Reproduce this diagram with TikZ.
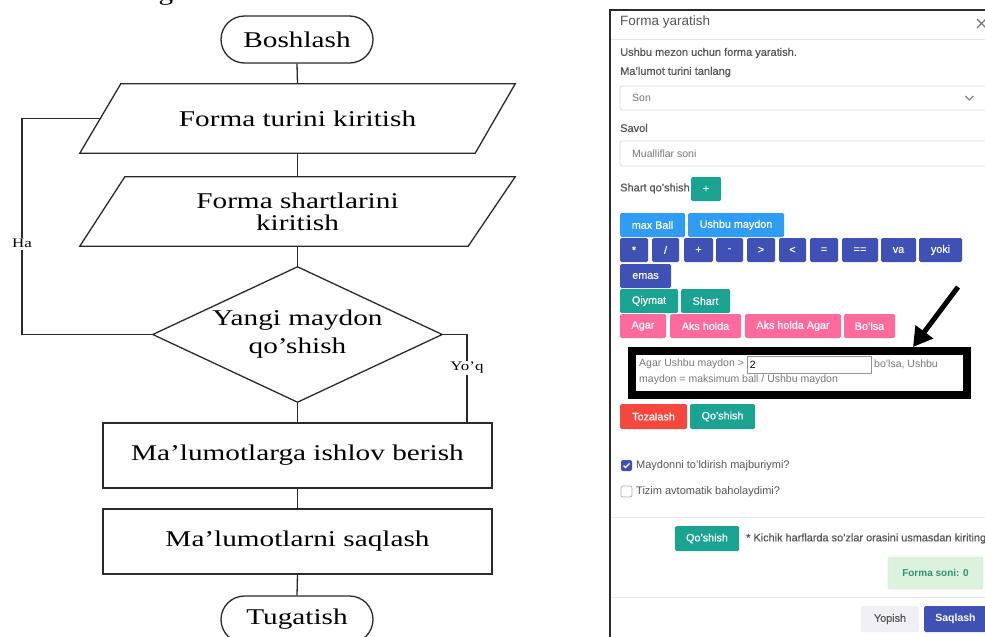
\documentclass[tikz,border=0pt]{standalone}
\usepackage{fontspec}
\setmainfont{Liberation Serif}
\newfontfamily\flowfont[FakeStretch=1.3]{Liberation Serif}
\newfontfamily\uifont{Liberation Sans}
\newfontfamily\uifontmed[FakeBold=0.5]{Liberation Sans}
\usetikzlibrary{arrows.meta,calc}

\definecolor{flowgray}{HTML}{2A2A2A}
\definecolor{uiblue}{HTML}{2F9DF4}
\definecolor{uiindigo}{HTML}{3F51B5}
\definecolor{uiteal}{HTML}{1BA392}
\definecolor{uipink}{HTML}{FE6A9B}
\definecolor{uired}{HTML}{F4473E}
\definecolor{uigreenbg}{HTML}{DDF2DD}
\definecolor{uigreenline}{HTML}{BFE3C3}
\definecolor{uigreentext}{HTML}{2E9373}
\definecolor{uigraybtn}{HTML}{EFEFF4}
\definecolor{uitext}{HTML}{555555}
\definecolor{uiph}{HTML}{777777}
\definecolor{uiline}{HTML}{DADADA}
\definecolor{uisep}{HTML}{E6E6E6}
\definecolor{uiframe}{HTML}{2A2A2A}

% one coloured button: name, colour, x1, y1, x2, y2, label
\newcommand\uibutton[7]{%
  \node[uibtn, fill=#2, minimum width={#5-#3}, minimum height={#6-#4}]
    (#1) at ({(#3+#5)/2},{(#4+#6)/2}) {#7};}

\begin{document}
\begin{tikzpicture}[x=1pt, y=-1pt,
  flowline/.style={draw=flowgray, line width=1.3pt},
  flowtext/.style={font=\flowfont\fontsize{22.5}{22}\selectfont, text=black},
  term/.style={flowline, flowtext, rounded corners=23.5pt, minimum width=152pt,
    minimum height=47pt, inner sep=0pt},
  procbox/.style={flowline, flowtext, minimum width=389pt, minimum height=65pt,
    inner sep=0pt},
  ghost/.style={flowtext, inner sep=0pt, align=center},
  lbl/.style={fill=white, inner sep=1.5pt, font=\flowfont\fontsize{13}{15}\selectfont},
  uitxt/.style={anchor=west, inner sep=0pt, text=uitext,
    font=\uifont\fontsize{11}{13}\selectfont},
  uilbl/.style={uitxt, font=\uifontmed\fontsize{11}{13}\selectfont},
  uiph/.style={uitxt, text=uiph, font=\uifont\fontsize{10.5}{12}\selectfont},
  uibtn/.style={text=white, inner sep=0pt, rounded corners=1.5pt,
    font=\uifontmed\fontsize{10.8}{12}\selectfont},
  uifield/.style={draw=uiline, line width=0.8pt, rounded corners=2pt, fill=white,
    inner sep=0pt},
  uisepline/.style={draw=uisep, line width=1pt},
]
\useasboundingbox (0,0) rectangle (985,637);
\clip (0,0) rectangle (985,637);
\fill[white] (0,0) rectangle (985,637);

% ---------------- flowchart ----------------
% descender of the heading line above
\node[flowtext, anchor=base, inner sep=0pt] (headfrag) at (166,0.5) {g};

\node[term] (start) at (297,39.5) {Boshlash};

\node[ghost, minimum width=435pt, minimum height=69pt] (in1) at (297.5,118.5)
  {Forma turini kiritish};
\draw[flowline] (in1.south west) -- ([xshift=-40pt]in1.south east)
  -- (in1.north east) -- ([xshift=41pt]in1.north west) -- cycle;

\node[ghost, minimum width=435pt, minimum height=69pt] (in2) at (297.5,211.5)
  {Forma shartlarini\\kiritish};
\draw[flowline] (in2.south west) -- ([xshift=-47pt]in2.south east)
  -- (in2.north east) -- ([xshift=45pt]in2.north west) -- cycle;

\node[ghost, font=\flowfont\fontsize{22.5}{28}\selectfont,
  minimum width=289pt, minimum height=135pt] (dec) at (297.5,334.5)
  {Yangi maydon\\qo’shish};
\draw[flowline] (dec.north) -- (dec.east) -- (dec.south) -- (dec.west) -- cycle;

\node[procbox] (proc) at (297.5,455.5) {Ma’lumotlarga ishlov berish};
\node[procbox] (save) at (297.5,541.5) {Ma’lumotlarni saqlash};
\node[term] (stop) at (297,619.5) {Tugatish};

\draw[flowline] (start.south) -- (in1.north);
\draw[flowline] (in1.south) -- (in2.north);
\draw[flowline] (in2.south) -- (dec.north);
\draw[flowline] (dec.south) -- (proc.north);
\draw[flowline] (proc.south) -- (save.north);
\draw[flowline] (save.south) -- (stop.north);

% "Ha" loop back to the first input
\coordinate (in1w) at ($(in1.south west)!0.5!([xshift=41pt]in1.north west)$);
\coordinate (loopx) at (22,0);
\draw[flowline] (dec.west) -- (dec.west -| loopx)
  -- node[lbl, pos=0.42] {Ha} (loopx |- in1w) -- (in1w);

% "Yo'q" branch down to processing
\coordinate (nox) at (467,0);
\draw[flowline] (dec.east) -- (dec.east -| nox)
  -- node[lbl, pos=0.38] {Yo’q} (nox |- proc.north);

% ---------------- form window ----------------
\draw[draw=uiframe, line width=2.2pt] (610,640) -- (610,10) -- (990,10);

\node[uitxt, font=\uifont\fontsize{13.5}{15}\selectfont] (title) at (620,22)
  {Forma yaratish};
\draw[draw=uiph, line width=1.1pt] (977,19) -- (986,28) (977,28) -- (986,19);
\draw[uisepline] (611,39.5) -- (990,39.5);

\node[uilbl] (intro) at (620,53) {Ushbu mezon uchun forma yaratish.};
\node[uilbl] (typelbl) at (620,72) {Ma’lumot turini tanlang};
\node[uifield, minimum width=372pt, minimum height=24pt] (typesel) at (806,98) {};
\node[uiph] (typeval) at (632,98) {Son};
\draw[draw=uiph, line width=1pt] ($(typesel.east)+(-27,-2)$) -- ++(4,4) -- ++(4,-4);

\node[uilbl] (qlbl) at (620,128) {Savol};
\node[uifield, minimum width=372pt, minimum height=25pt] (qfield) at (806,153.5) {};
\node[uiph] (qval) at (632,153.5) {Mualliflar soni};

\node[uilbl] (condlbl) at (620,188.5) {Shart qo’shish};
\uibutton{bplus}{uiteal}{691}{177}{721}{201}{+}

\uibutton{bmax}{uiblue}{620}{213}{685}{237}{max Ball}
\uibutton{bfield}{uiblue}{688}{213}{784}{237}{Ushbu maydon}

\uibutton{bmul}{uiindigo}{620}{238}{648}{262}{*}
\uibutton{bdiv}{uiindigo}{652}{238}{679}{262}{/}
\uibutton{badd}{uiindigo}{684}{238}{713}{262}{+}
\uibutton{bsub}{uiindigo}{716}{238}{743}{262}{-}
\uibutton{bgt}{uiindigo}{747}{238}{775}{262}{>}
\uibutton{blt}{uiindigo}{779}{238}{806}{262}{<}
\uibutton{beq}{uiindigo}{810}{238}{838}{262}{=}
\uibutton{beqeq}{uiindigo}{842}{238}{878}{262}{==}
\uibutton{band}{uiindigo}{881}{238}{916}{262}{va}
\uibutton{bor}{uiindigo}{919}{238}{962}{262}{yoki}
\uibutton{bnot}{uiindigo}{620}{264}{671}{288}{emas}

\uibutton{bval}{uiteal}{620}{289}{678}{313}{Qiymat}
\uibutton{bcond}{uiteal}{681}{289}{730}{313}{Shart}

\uibutton{bif}{uipink}{620}{314}{666}{338}{Agar}
\uibutton{belse}{uipink}{670}{314}{741}{338}{Aks holda}
\uibutton{belif}{uipink}{745}{314}{841}{338}{Aks holda Agar}
\uibutton{bthen}{uipink}{844}{314}{895}{338}{Bo’lsa}

% highlighted rule preview
\node[draw=black, line width=8pt, minimum width=335pt, minimum height=44pt,
  inner sep=0pt] (rule) at (799.5,373) {};
\node[uiph] (rule1) at (639,364) {Agar Ushbu maydon >};
\node[draw=uiph!80, line width=0.8pt, fill=white, minimum width=124pt,
  minimum height=17pt, inner sep=0pt] (rulebox) at (809,364.5) {};
\node[uiph, text=black] (ruleval) at ($(rulebox.west)+(3,0)$) {2};
\node[uiph] (rule2) at (874,364) {bo’lsa, Ushbu};
\node[uiph] (rule3) at (639,380) {maydon = maksimum ball / Ushbu maydon};

\coordinate (arrtail) at (958,287);
\coordinate (arrtip) at ($(rule.north west)+(285,0)$);
\draw[black, line width=5pt, -{Triangle[length=19pt, width=21pt]}] (arrtail) -- (arrtip);

\uibutton{bclear}{uired}{620}{404}{687}{429}{Tozalash}
\uibutton{binsert}{uiteal}{690}{404}{755}{429}{Qo’shish}

\node[fill=uiindigo, rounded corners=2pt, minimum size=11pt, inner sep=0pt]
  (chk1) at (626.5,465.5) {};
\draw[white, line width=1.2pt] ($(chk1.center)+(-3,0)$) -- ++(2,2) -- ++(4,-4);
\node[uitxt] (chk1lbl) at (636,465.5) {Maydonni to’ldirish majburiymi?};
\node[draw=uiline!80!black, line width=0.7pt, fill=white, rounded corners=2pt,
  minimum size=11pt, inner sep=0pt] (chk2) at (626.5,491.5) {};
\node[uitxt] (chk2lbl) at (636,491.5) {Tizim avtomatik baholaydimi?};

\draw[uisepline] (611,517) -- (990,517);
\uibutton{bsubmit}{uiteal}{675}{526}{739}{551}{Qo’shish}
\node[uilbl, font=\uifontmed\fontsize{10.9}{13}\selectfont] (hint) at (746,538.5)
  {* Kichik harflarda so’zlar orasini usmasdan kiriting};
\node[draw=uigreenline, fill=uigreenbg, rounded corners=2pt, minimum width=95pt,
  minimum height=32pt, inner sep=0pt, text=uigreentext,
  font=\uifont\bfseries\fontsize{10}{12}\selectfont] (count) at (935.5,573)
  {Forma soni: 0};

\draw[uisepline] (611,597) -- (990,597);
\node[fill=uigraybtn, rounded corners=1.5pt, minimum width=58pt, minimum height=26pt,
  inner sep=0pt, text=uitext, font=\uifontmed\fontsize{10.8}{12}\selectfont]
  (bclose) at (890,619) {Yopish};
\node[uibtn, fill=uiindigo, minimum width=63pt, minimum height=26pt,
  font=\uifont\bfseries\fontsize{10.5}{12}\selectfont] (bsave) at (955.5,619) {Saqlash};
\end{tikzpicture}
\end{document}
